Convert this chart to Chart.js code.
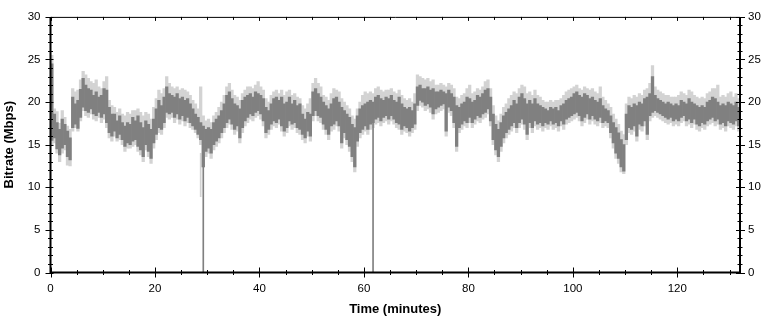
<!DOCTYPE html>
<html>
<head>
<meta charset="utf-8">
<title>Bitrate</title>
<script src="https://cdn.jsdelivr.net/npm/chart.js@4.4.1/dist/chart.umd.min.js"></script>
<style>
  html, body { margin: 0; padding: 0; background: #fff; }
  canvas { display: block; }
</style>
</head>
<body>
<canvas id="bitrateChart" width="769" height="323"></canvas>
<script>
// Time axis: samples are 0.5 minute bins, x runs 0..132 minutes
const binMinutes = 0.5;
const timeMax = 132;

// Per-bin range of the bitrate trace (Mbps)
const darkLo = [
  15.5,15.8,14.5,13.8,14.6,15.0,13.6,13.2,17.0,17.4,
  16.9,18.2,19.4,19.0,18.8,19.2,18.6,18.4,18.8,18.2,
  18.6,17.6,16.4,16.0,16.6,15.8,16.2,15.6,14.8,15.2,
  15.0,15.4,15.6,14.8,14.4,13.6,15.0,14.2,13.4,15.2,
  16.2,17.0,16.8,17.6,18.8,18.6,18.8,18.2,18.6,18.0,
  18.4,17.8,18.2,17.6,17.2,16.8,16.2,15.6,12.4,14.2,
  14.6,14.0,15.0,15.4,15.8,16.4,17.0,17.6,18.0,17.4,
  16.8,17.2,15.8,17.0,17.8,18.2,18.6,18.4,18.8,19.0,
  18.6,17.8,16.4,16.8,17.4,17.8,17.6,18.0,17.2,16.6,
  17.0,17.8,17.4,17.6,17.0,16.8,16.2,15.8,16.6,16.0,
  18.4,19.0,18.4,18.2,17.4,16.8,16.2,17.2,17.4,17.8,
  17.2,15.2,16.4,15.6,14.8,13.6,12.4,15.4,16.4,16.8,
  17.2,16.8,17.4,17.6,18.0,18.2,17.8,18.2,18.4,18.0,
  18.4,18.0,17.6,17.4,16.8,17.2,17.0,16.6,17.0,17.4,
  19.6,20.2,20.0,19.6,19.8,19.4,18.6,19.2,19.4,19.6,
  19.8,16.6,19.4,19.0,17.6,14.8,17.0,17.4,17.8,17.6,
  18.2,17.6,18.0,18.4,18.2,18.6,18.8,19.2,17.8,15.6,
  14.4,13.6,14.8,15.8,16.4,16.8,17.2,17.6,17.0,17.6,
  18.0,17.4,16.2,17.6,17.0,17.8,17.4,17.6,17.2,17.6,
  17.4,17.8,17.4,17.6,17.2,17.8,17.4,18.0,18.2,18.4,
  18.6,18.8,18.4,17.8,18.2,18.6,18.0,18.4,18.0,17.8,
  18.2,17.6,17.8,17.6,16.4,15.2,14.0,13.4,12.4,11.9,
  15.6,17.0,16.8,17.2,16.0,17.4,17.2,17.8,16.2,18.4,
  18.8,19.0,18.8,18.6,18.4,18.2,18.0,18.2,17.8,18.0,
  17.8,18.2,18.4,17.8,18.0,17.6,18.0,17.4,17.2,17.6,
  17.4,17.8,18.0,18.2,17.8,18.0,17.4,17.6,17.2,17.8,
  17.6,17.4,17.8,17.2
];
const darkHi = [
  24.5,18.6,17.6,16.8,18.0,17.4,16.6,15.8,20.6,19.8,
  20.2,21.5,22.8,22.0,21.6,21.4,20.8,21.2,20.6,20.8,
  21.6,21.4,19.4,18.6,18.6,17.8,18.4,17.6,17.2,17.6,
  17.4,18.2,17.8,18.4,17.6,17.0,17.8,17.4,16.8,18.0,
  19.2,20.2,19.6,20.6,21.8,21.0,20.8,20.6,21.0,20.4,
  20.6,20.2,20.4,19.8,19.2,18.6,18.2,17.6,17.2,16.8,
  17.0,16.8,17.6,18.0,18.4,19.0,19.8,20.8,21.2,20.4,
  19.8,19.6,19.2,20.2,20.6,20.8,21.0,20.6,21.2,21.0,
  20.8,20.4,19.4,19.0,19.8,20.4,20.6,20.2,20.6,19.8,
  20.0,20.6,19.8,20.2,19.6,19.8,18.6,18.0,18.8,18.6,
  21.2,21.6,21.0,20.6,20.0,19.6,19.2,19.8,20.4,20.6,
  20.0,19.4,19.0,18.6,18.2,17.4,17.0,18.4,19.2,19.6,
  19.8,20.0,20.2,20.0,20.6,20.8,20.4,20.2,20.6,20.4,
  20.8,20.2,20.0,20.6,19.8,19.4,19.2,19.4,19.0,19.8,
  21.8,22.0,21.6,21.6,21.8,21.4,21.6,21.2,21.2,21.4,
  21.2,21.0,21.4,21.0,20.6,19.6,19.4,19.8,20.0,20.6,
  20.4,20.0,20.2,20.8,20.6,21.0,21.4,21.6,20.6,18.6,
  17.4,16.8,17.6,18.4,18.8,19.2,19.6,20.2,19.8,20.6,
  21.0,20.4,19.8,20.2,19.8,20.4,19.8,19.6,19.4,19.2,
  19.0,19.4,19.2,19.4,19.0,19.6,19.8,20.2,20.4,20.6,
  21.0,21.2,20.8,20.6,21.0,20.8,20.4,20.6,20.2,20.0,
  20.4,19.6,19.2,19.0,18.4,17.6,17.0,16.4,15.6,15.0,
  18.6,19.6,19.4,19.8,19.6,20.0,19.8,20.4,20.6,21.0,
  23.0,20.8,20.4,20.2,20.0,19.8,20.0,19.8,19.6,19.8,
  19.6,20.2,20.0,19.8,20.4,20.0,19.8,19.6,19.4,19.6,
  19.4,20.0,20.2,20.6,20.4,20.0,19.6,19.8,19.6,20.0,
  19.8,19.6,20.0,19.4
];

// Per-bin range of the lighter (peak) trace
const lightLo = [
  15.0,15.2,14.0,13.0,14.0,14.4,12.6,12.5,16.6,17.0,
  16.6,17.8,19.0,18.4,18.2,18.6,18.0,17.8,18.2,17.6,
  18.0,17.0,15.8,15.4,16.0,15.4,15.6,15.0,14.2,14.6,
  14.6,14.8,15.0,14.2,13.8,13.0,14.4,13.6,12.8,14.6,
  15.6,16.4,16.2,17.0,18.2,18.0,18.2,17.6,18.0,17.4,
  17.8,17.2,17.6,17.0,16.8,16.4,15.8,15.0,12.4,13.6,
  14.0,13.4,14.4,14.8,15.2,15.8,16.4,17.0,17.4,16.8,
  16.2,16.6,15.2,16.4,17.2,17.6,18.0,17.8,18.2,18.4,
  18.0,17.2,15.8,16.2,16.8,17.2,17.0,17.4,16.6,16.0,
  16.4,17.2,16.8,17.0,16.4,16.2,15.6,15.2,16.0,15.4,
  17.8,18.4,17.8,17.6,16.8,16.2,15.6,16.6,16.8,17.2,
  16.6,14.6,15.8,15.0,14.2,13.0,11.8,14.8,15.8,16.2,
  16.6,16.2,16.8,17.0,17.4,17.6,17.2,17.6,17.8,17.4,
  17.8,17.4,17.0,16.8,16.2,16.6,16.4,16.0,16.4,16.8,
  19.0,19.6,19.4,19.0,19.2,18.8,18.0,18.6,18.8,19.0,
  19.2,16.0,18.8,18.4,17.0,14.2,16.4,16.8,17.2,17.0,
  17.6,17.0,17.4,17.8,17.6,18.0,18.2,18.6,17.2,15.0,
  13.8,13.0,14.2,15.2,15.8,16.2,16.6,17.0,16.4,17.0,
  17.4,16.8,15.6,17.0,16.4,17.2,16.8,17.0,16.6,17.0,
  16.8,17.2,16.8,17.0,16.6,17.2,16.8,17.4,17.6,17.8,
  18.0,18.2,17.8,17.2,17.6,18.0,17.4,17.8,17.4,17.2,
  17.6,17.0,17.2,17.0,15.8,14.6,13.4,12.8,11.8,11.6,
  15.0,16.4,16.2,16.6,15.4,16.8,16.6,17.2,15.6,17.8,
  18.2,18.4,18.2,18.0,17.8,17.6,17.4,17.6,17.2,17.4,
  17.2,17.6,17.8,17.2,17.4,17.0,17.4,16.8,16.6,17.0,
  16.8,17.2,17.4,17.6,17.2,17.4,16.8,17.0,16.6,17.2,
  17.0,16.8,17.2,16.6
];
const lightHi = [
  25.5,19.2,18.9,17.5,19.0,18.2,17.2,16.8,21.6,21.2,
  21.4,22.6,23.6,23.2,22.8,22.4,22.2,22.6,21.8,21.6,
  22.4,23.0,20.2,19.6,19.4,18.8,19.2,18.6,18.4,18.8,
  18.6,19.0,19.0,19.2,18.8,18.4,18.8,18.6,18.0,19.4,
  20.4,21.4,21.0,21.6,23.0,22.2,21.8,21.6,21.8,21.4,
  21.6,21.4,21.2,20.8,20.2,19.8,19.2,21.8,18.4,17.8,
  18.0,17.6,18.4,18.8,19.4,20.0,20.8,21.8,22.2,21.4,
  20.8,20.6,20.2,21.0,21.4,21.8,21.8,21.6,22.0,22.4,
  21.8,21.4,20.4,20.0,20.8,21.2,21.4,21.0,21.4,20.8,
  21.2,21.4,20.8,21.0,20.6,20.4,19.6,19.2,19.8,20.4,
  22.2,22.8,22.2,21.8,20.8,20.6,20.2,21.0,21.6,21.4,
  21.2,20.4,20.0,19.6,19.2,18.4,18.0,19.2,20.0,20.8,
  21.2,21.0,21.2,21.0,21.6,21.8,21.4,21.2,21.4,21.4,
  21.6,21.2,21.0,21.4,20.8,20.4,20.2,20.4,20.0,21.0,
  23.2,23.0,22.8,22.6,22.8,22.4,22.6,22.0,22.0,22.2,
  22.0,21.8,22.2,22.0,21.6,20.6,20.4,20.8,21.0,21.6,
  22.0,21.0,21.2,21.6,21.4,21.8,22.4,22.6,21.6,19.6,
  18.4,17.8,18.6,19.4,19.8,20.4,20.8,21.2,21.0,21.6,
  22.0,21.8,21.0,21.2,20.8,21.4,20.8,20.6,20.2,20.0,
  20.0,20.2,20.0,20.2,20.2,20.4,20.8,21.2,21.4,21.6,
  21.8,22.0,21.6,21.4,21.8,21.6,21.4,21.6,21.2,21.0,
  21.8,20.6,20.2,19.8,19.4,18.6,18.0,17.4,16.6,16.2,
  19.8,20.6,20.4,20.8,20.6,21.0,20.8,21.4,21.6,22.2,
  24.3,21.8,21.4,21.2,21.0,20.8,20.8,20.6,20.6,20.6,
  20.8,21.2,21.0,20.8,21.4,21.2,20.8,20.6,20.4,20.6,
  20.4,21.0,21.2,21.6,21.6,22.0,20.6,20.8,20.6,21.0,
  21.2,20.6,21.0,20.4
];

// Short outages where the trace drops towards zero
const dropTimes = [29.25, 61.75];
const dropBottoms = [0, 0];
const dropTops = [13.0, 18.0];
const lightDropTimes = [28.75];
const lightDropBottoms = [8.9];
const lightDropTops = [14.0];

const darkColor = '#808080';
const lightColor = '#d3d3d3';

// Build floating-bar points from the bins
const binTimes = darkLo.map((_, i) => i * binMinutes + binMinutes / 2);
const toBars = (times, lo, hi) => times.map((t, i) => ({ x: t, y: [lo[i], hi[i]] }));

// Frame and tick marks (ticks cross the axis line like the original plot)
const axisFrame = {
  id: 'axisFrame',
  afterDraw(chart) {
    const { ctx, chartArea: a, scales: { x, y } } = chart;
    ctx.save();
    ctx.strokeStyle = '#000';

    ctx.lineWidth = 2;
    ctx.beginPath();
    ctx.moveTo(a.left, a.top);
    ctx.lineTo(a.left, a.bottom);
    ctx.lineTo(a.right, a.bottom);
    ctx.lineTo(a.right, a.top);
    ctx.stroke();

    ctx.lineWidth = 1;
    ctx.beginPath();
    ctx.moveTo(a.left, a.top + 0.5);
    ctx.lineTo(a.right, a.top + 0.5);

    // x ticks every 5 min, major every 20
    for (let v = 0; v <= timeMax; v += 5) {
      const px = Math.round(x.getPixelForValue(v)) + 0.5;
      const major = v % 20 === 0;
      const len = major ? 5 : 2.5;
      ctx.moveTo(px, a.bottom - len);
      ctx.lineTo(px, a.bottom + len);
      ctx.moveTo(px, a.top);
      ctx.lineTo(px, a.top + (major ? 4 : 3));
    }

    // y ticks every 1, major every 5 (both sides)
    for (let v = 0; v <= 30; v += 1) {
      const py = Math.round(y.getPixelForValue(v)) + 0.5;
      const major = v % 5 === 0;
      ctx.moveTo(a.left - (major ? 5 : 2.5), py);
      ctx.lineTo(a.left + (major ? 3 : 2.5), py);
      ctx.moveTo(a.right - (major ? 4 : 2.5), py);
      ctx.lineTo(a.right + (major ? 5 : 2.5), py);
    }
    ctx.stroke();
    ctx.restore();
  }
};

const tickFont = { family: 'Liberation Sans, Arial, sans-serif', size: 11.5 };
const titleFont = { family: 'Liberation Sans, Arial, sans-serif', size: 13, weight: 'bold' };

const ctx = document.getElementById('bitrateChart').getContext('2d');
const bitrateChart = new Chart(ctx, {
  type: 'bar',
  data: {
    datasets: [
      { label: 'drops', data: toBars(dropTimes, dropBottoms, dropTops), backgroundColor: darkColor, barThickness: 1, grouped: false, order: 0 },
      { label: 'Bitrate', data: toBars(binTimes, darkLo, darkHi), backgroundColor: darkColor, barPercentage: 1, categoryPercentage: 1, grouped: false, order: 1 },
      { label: 'light drops', data: toBars(lightDropTimes, lightDropBottoms, lightDropTops), backgroundColor: lightColor, barThickness: 1, grouped: false, order: 2 },
      { label: 'Peak', data: toBars(binTimes, lightLo, lightHi), backgroundColor: lightColor, barPercentage: 1, categoryPercentage: 1, grouped: false, order: 3 }
    ]
  },
  options: {
    responsive: false,
    animation: false,
    devicePixelRatio: 1,
    layout: { padding: { top: 10.5, left: 0, right: 0, bottom: 0 } },
    plugins: { legend: { display: false }, tooltip: { enabled: false } },
    scales: {
      x: {
        type: 'linear',
        position: 'bottom',
        min: 0,
        max: timeMax,
        offset: false,
        grid: { display: false, drawTicks: false, tickLength: 0 },
        border: { display: false },
        ticks: { stepSize: 20, includeBounds: false, color: '#000', font: tickFont, padding: 9, maxRotation: 0 },
        title: { display: true, text: 'Time (minutes)', color: '#000', font: titleFont, padding: { top: 4, bottom: 6 } },
        afterFit: s => { s.height = 50.5; }
      },
      y: {
        position: 'left',
        min: 0,
        max: 30,
        grid: { display: false, drawTicks: false, tickLength: 0 },
        border: { display: false },
        ticks: { stepSize: 5, color: '#000', font: tickFont, padding: 10 },
        title: { display: true, text: 'Bitrate (Mbps)', color: '#000', font: titleFont, padding: { top: 1.5, bottom: 0 } },
        afterFit: s => { s.width = 50.5; }
      },
      y2: {
        position: 'right',
        min: 0,
        max: 30,
        grid: { display: false, drawTicks: false, tickLength: 0 },
        border: { display: false },
        ticks: { stepSize: 5, color: '#000', font: tickFont, padding: 8 },
        afterFit: s => { s.width = 29; }
      }
    }
  },
  plugins: [axisFrame]
});
</script>
</body>
</html>
